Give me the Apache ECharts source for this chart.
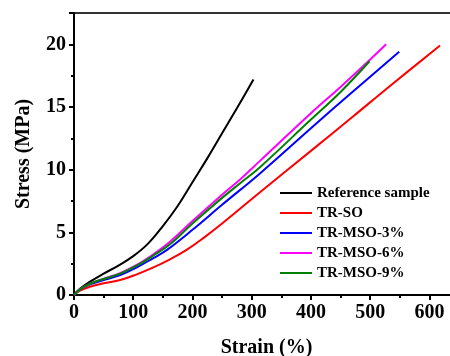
<!DOCTYPE html>
<html>
<head>
<meta charset="utf-8">
<script src="https://cdn.jsdelivr.net/npm/echarts@6/dist/echarts.min.js"></script>
<style>html,body{margin:0;padding:0;background:#fff}#c{width:450px;height:356px}</style>
</head>
<body>
<div id="c"></div>
<script>
var seriesNames = ['Reference sample', 'TR-SO', 'TR-MSO-3%', 'TR-MSO-6%', 'TR-MSO-9%'];
var refStrain = [0, 10, 25, 50, 75, 100, 125, 150, 175, 200, 225, 250, 275, 303];
var refStress = [0, 0.5, 1.0, 1.7, 2.35, 3.1, 4.1, 5.5, 7.1, 9.0, 10.9, 12.9, 14.9, 17.2];
var soStrain = [0, 10, 27, 50, 78, 106, 134, 162, 190, 220, 250, 314, 400, 470, 534, 618];
var soStress = [0, 0.35, 0.66, 0.93, 1.19, 1.65, 2.2, 2.85, 3.6, 4.6, 5.7, 8.2, 11.5, 14.2, 16.7, 19.9];
var mso3Strain = [0, 10, 27, 50, 78, 106, 134, 157, 200, 250, 314, 400, 470, 549];
var mso3Stress = [0, 0.45, 0.85, 1.19, 1.59, 2.2, 2.95, 3.6, 5.2, 7.2, 9.7, 13.3, 16.2, 19.4];
var mso6Strain = [0, 10, 27, 50, 78, 106, 134, 162, 200, 250, 280, 314, 400, 450, 497, 527];
var mso6Stress = [0, 0.45, 0.9, 1.3, 1.75, 2.4, 3.25, 4.25, 5.9, 8.0, 9.2, 10.7, 14.5, 16.6, 18.65, 20.0];
var mso9Strain = [0, 10, 27, 50, 78, 106, 134, 162, 200, 250, 280, 314, 400, 450, 499];
var mso9Stress = [0, 0.45, 0.9, 1.28, 1.7, 2.35, 3.15, 4.05, 5.7, 7.75, 8.9, 10.2, 14.0, 16.2, 18.65];
var colors = ['#000000', '#ff0000', '#0000ff', '#ff00ff', '#008000'];

function pairs(xs, ys) { return xs.map(function (x, i) { return [x, ys[i]]; }); }
var allData = [
  pairs(refStrain, refStress),
  pairs(soStrain, soStress),
  pairs(mso3Strain, mso3Stress),
  pairs(mso6Strain, mso6Stress),
  pairs(mso9Strain, mso9Stress)
];

var font = 'Liberation Serif';
var chart = echarts.init(document.getElementById('c'), null, { renderer: 'canvas' });
chart.setOption({
  animation: false,
  backgroundColor: '#fff',
  grid: { left: 74, top: 13, width: 385, height: 282, outerBoundsMode: 'none', containLabel: false,
          show: true, borderColor: '#333', borderWidth: 2, backgroundColor: 'transparent' },
  legend: {
    orient: 'vertical', left: 275, top: 180,
    icon: 'rect', itemWidth: 32, itemHeight: 2, itemGap: 4,
    textStyle: { fontFamily: font, fontWeight: 'bold', fontSize: 15, color: '#000', lineHeight: 16 },
    data: seriesNames
  },
  xAxis: {
    type: 'value', min: 0, max: 650, interval: 100,
    name: 'Strain (%)', nameLocation: 'middle', nameGap: 43,
    nameTextStyle: { fontFamily: font, fontWeight: 'bold', fontSize: 20, color: '#000' },
    axisLine: { show: true, lineStyle: { color: '#000', width: 2 } },
    axisTick: { show: true, inside: false, length: 5, lineStyle: { color: '#000', width: 2 } },
    minorTick: { show: true, splitNumber: 2, length: 3, lineStyle: { color: '#000', width: 2 } },
    axisLabel: { fontFamily: font, fontWeight: 'bold', fontSize: 20, color: '#000', margin: 8, showMaxLabel: false },
    splitLine: { show: false }
  },
  yAxis: {
    type: 'value', min: 0, max: 22.5, interval: 5,
    name: 'Stress (MPa)', nameLocation: 'middle', nameGap: 40,
    nameTextStyle: { fontFamily: font, fontWeight: 'bold', fontSize: 20, color: '#000' },
    axisLine: { show: true, lineStyle: { color: '#000', width: 2 } },
    axisTick: { show: true, inside: false, length: 5, lineStyle: { color: '#000', width: 2 } },
    minorTick: { show: true, splitNumber: 2, length: 3, lineStyle: { color: '#000', width: 2 } },
    axisLabel: { fontFamily: font, fontWeight: 'bold', fontSize: 20, color: '#000', margin: 8, showMaxLabel: false },
    splitLine: { show: false }
  },
  series: seriesNames.map(function (n, i) {
    return {
      name: n, type: 'line', smooth: 0.4, showSymbol: false, symbol: 'none',
      data: allData[i], color: colors[i],
      lineStyle: { color: colors[i], width: 2 },
      itemStyle: { color: colors[i] }
    };
  })
});
</script>
</body>
</html>
